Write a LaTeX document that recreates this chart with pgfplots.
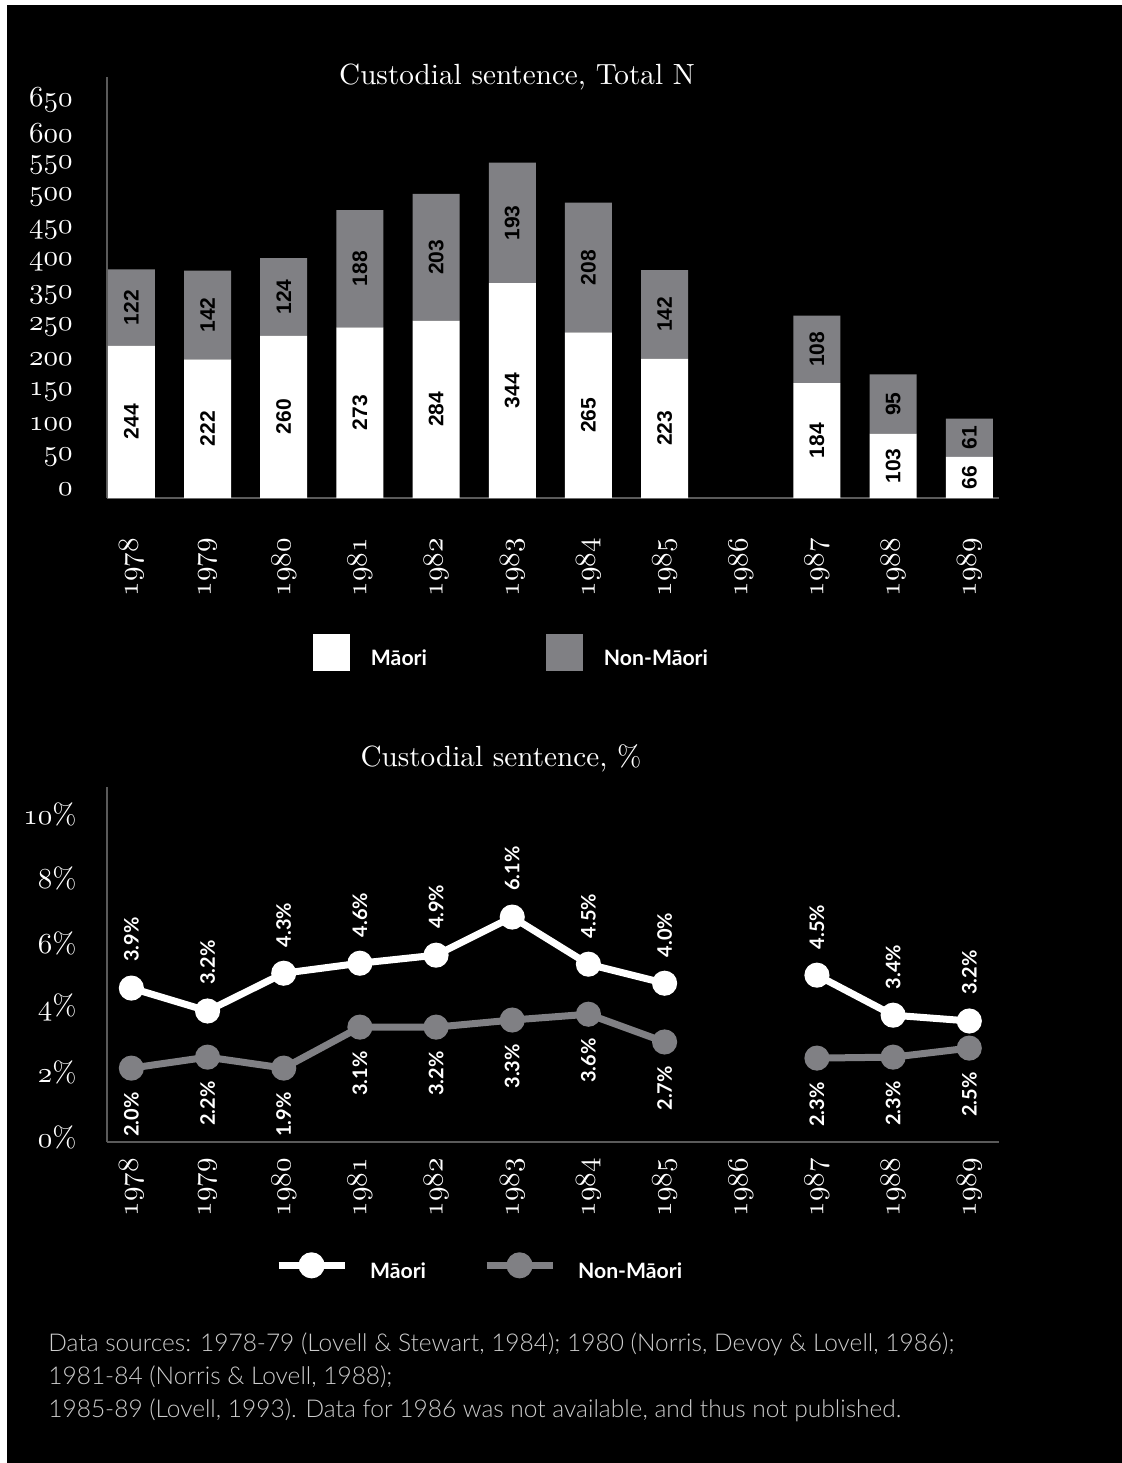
\documentclass[border=0pt]{standalone}
\usepackage{pgfplots}
\pgfplotsset{compat=1.18}
\usepackage{fontspec}
\newfontfamily\lato{Lato}
\newfontfamily\latolight{Lato Light}
\newfontfamily\lsans{Liberation Sans}
\newfontfamily\ttl{lmroman10-regular}[Extension=.otf]
\font\osnfont=cmmi10 at 14.5pt
\newcommand\osn[1]{{\osnfont #1}}
\definecolor{ngray}{RGB}{128,128,132}
\definecolor{axgray}{RGB}{90,90,90}
\definecolor{foot}{RGB}{205,205,205}
\pgfplotsset{
  common/.style={
    scale only axis, width=446pt, anchor=south west,
    xmin=-0.32, xmax=11.39,
    axis lines*=left,
    axis line style={draw=axgray, line width=1pt},
    major tick length=0pt,
    xtick={0,...,11},
    xticklabels={\osn{1978},\osn{1979},\osn{1980},\osn{1981},\osn{1982},\osn{1983},\osn{1984},\osn{1985},\osn{1986},\osn{1987},\osn{1988},\osn{1989}},
    xticklabel style={rotate=90, anchor=east, inner sep=0pt, text=white, font=\fontsize{14.5}{16}\selectfont},
    yticklabel style={anchor=east, inner sep=0pt, text=white, font=\ttl\fontsize{14.5}{16}\selectfont},
    clip=false,
  }
}
\begin{document}
\begin{tikzpicture}
\path[use as bounding box] (0,0) rectangle (561pt,-731.5pt);
\fill[white] (0,0) rectangle (561pt,-731.5pt);
\fill[black] (3.5pt,-2.5pt) rectangle (561pt,-731.5pt);

% ---------------- top chart: stacked bars ----------------
\begin{axis}[common, at={(53.5pt,-249pt)}, height=210.5pt, ymin=0, ymax=674,
  ybar stacked, bar width=23.5pt,
  ytick={14.4,66.2,118.1,169.9,221.8,273.6,325.4,377.3,429.1,481,532.8,584.6,636.5},
  yticklabels={\osn{0},\osn{50},\osn{100},\osn{150},\osn{200},\osn{250},\osn{350},\osn{400},\osn{450},\osn{500},\osn{550},\osn{600},\osn{650}},
  xticklabel shift=20pt, yticklabel shift=17pt,
  title={Custodial sentence, Total N},
  title style={at={(0.4596,1)}, anchor=base, yshift=-9.5pt, text=white, inner sep=0pt, font=\ttl\fontsize{14.6}{17}\selectfont},
  legend columns=2,
  legend style={at={(0.2309,-0.3658)}, anchor=west, draw=none, fill=none, inner sep=0pt, outer sep=0pt,
    text=white, font=\lato\bfseries\fontsize{10.6}{12}\selectfont, nodes={inner sep=0pt},
    /tikz/every odd column/.append style={column sep=10.5pt},
    /tikz/every even column/.append style={column sep=59.5pt}},
]
\addplot[fill=white, draw=none,
  legend image code/.code={\fill[white] (0pt,-5.75pt) rectangle (18.5pt,12.75pt);}]
  coordinates {(0,244) (1,222) (2,260) (3,273) (4,284) (5,344) (6,265) (7,223) (9,184) (10,103) (11,66)};
\addlegendentry{Māori}
\addplot[fill=ngray, draw=none,
  legend image code/.code={\fill[ngray] (0pt,-5.75pt) rectangle (18.5pt,12.75pt);}]
  coordinates {(0,122) (1,142) (2,124) (3,188) (4,203) (5,193) (6,208) (7,142) (9,108) (10,95) (11,61)};
\addlegendentry{Non-Māori}
\end{axis}

% labels at the middle of each segment
\begin{axis}[common, hide axis, at={(53.5pt,-249pt)}, height=210.5pt, ymin=0, ymax=674]
\addplot[draw=none, mark=none, nodes near coords, point meta=explicit symbolic,
  every node near coord/.append style={rotate=90, anchor=center, text=black,
    font=\lsans\bfseries\fontsize{10.5}{12}\selectfont}]
  table[meta=lab]{
x y lab
0 122 244
0 305 122
1 111 222
1 293 142
2 130 260
2 322 124
3 136.5 273
3 367 188
4 142 284
4 385.5 203
5 172 344
5 440.5 193
6 132.5 265
6 369 208
7 111.5 223
7 294 142
9 92 184
9 238 108
10 51.5 103
10 150.5 95
11 33 66
11 96.5 61
};
\end{axis}

% ---------------- bottom chart: lines ----------------
\begin{axis}[common, at={(53.5pt,-571pt)}, height=177.5pt, ymin=0, ymax=11,
  ytick={0,2,4,6,8,10},
  yticklabels={\osn{0}\%,\osn{2}\%,\osn{4}\%,\osn{6}\%,\osn{8}\%,\osn{10}\%},
  yticklabel style={yshift=2.5pt},
  xticklabel shift=8pt, yticklabel shift=15pt,
  unbounded coords=jump,
  title={Custodial sentence, \%},
  title style={at={(0.4417,1)}, anchor=base, yshift=4.5pt, text=white, inner sep=0pt, font=\ttl\fontsize{14.6}{17}\selectfont},
  legend columns=2,
  legend style={at={(0.1884,-0.3521)}, anchor=west, draw=none, fill=none, inner sep=0pt, outer sep=0pt,
    text=white, font=\lato\bfseries\fontsize{10.6}{12}\selectfont, nodes={inner sep=0pt},
    /tikz/every odd column/.append style={column sep=11pt},
    /tikz/every even column/.append style={column sep=28.5pt}},
]
\addplot[white, line width=3.5pt, mark=*, mark size=4.5pt, mark options={solid, fill=white, draw=none},
  nodes near coords={\pgfplotspointmeta\%}, point meta=explicit symbolic,
  every node near coord/.append style={yshift=8pt, rotate=90, anchor=west, text=white,
    font=\lato\bfseries\fontsize{10}{12}\selectfont},
  legend image code/.code={\draw[white, line width=3.5pt] (0pt,3.5pt)--(33pt,3.5pt); \fill[white] (16.5pt,3.5pt) circle (4.75pt);}]
  table[meta=lab]{
x y lab
0 4.77 3.9
1 4.06 3.2
2 5.23 4.3
3 5.54 4.6
4 5.79 4.9
5 6.97 6.1
6 5.51 4.5
7 4.92 4.0
8 nan 0
9 5.17 4.5
10 3.93 3.4
11 3.75 3.2
};
\addlegendentry{Māori}
\addplot[ngray, line width=3.5pt, mark=*, mark size=4.5pt, mark options={solid, fill=ngray, draw=none},
  nodes near coords={\pgfplotspointmeta\%}, point meta=explicit symbolic,
  every node near coord/.append style={yshift=-7pt, rotate=90, anchor=east, text=white,
    font=\lato\bfseries\fontsize{10}{12}\selectfont},
  legend image code/.code={\draw[ngray, line width=3.5pt] (0pt,3.5pt)--(33pt,3.5pt); \fill[ngray] (16.5pt,3.5pt) circle (4.75pt);}]
  table[meta=lab]{
x y lab
0 2.29 2.0
1 2.63 2.2
2 2.29 1.9
3 3.56 3.1
4 3.56 3.2
5 3.78 3.3
6 3.96 3.6
7 3.10 2.7
8 nan 0
9 2.60 2.3
10 2.63 2.3
11 2.91 2.5
};
\addlegendentry{Non-Māori}
\end{axis}

% ---------------- footer ----------------
\begin{scope}[every node/.style={anchor=base west, inner sep=0pt, text=foot, font=\latolight\fontsize{12.25}{14}\selectfont}]
\node at (24pt,-675.5pt) {Data sources: 1978-79 (Lovell \& Stewart, 1984); 1980 (Norris, Devoy \& Lovell, 1986);};
\node at (24pt,-692pt) {1981-84 (Norris \& Lovell, 1988);};
\node at (24pt,-708.5pt) {1985-89 (Lovell, 1993). Data for 1986 was not available, and thus not published.};
\end{scope}
\end{tikzpicture}
\end{document}
